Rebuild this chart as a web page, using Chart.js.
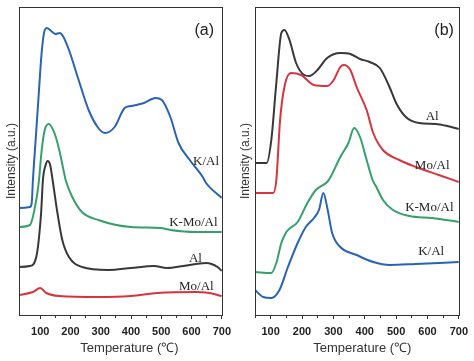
<!DOCTYPE html>
<html>
<head>
<meta charset="utf-8">
<script src="https://cdn.jsdelivr.net/npm/chart.js@4.4.0/dist/chart.umd.min.js"></script>
<style>
  body { margin: 0; background: #fff; width: 474px; height: 361px; position: relative; overflow: hidden; }
  canvas { position: absolute; top: 0; }
  #chartA { left: 0; }
  #chartB { left: 237px; }
</style>
</head>
<body>
<canvas id="chartA" width="237" height="361"></canvas>
<canvas id="chartB" width="237" height="361"></canvas>
<script>
// ---- panel (a) : temperatures (°C) and intensities (a.u., offset curves)
const tA_K = [30, 66, 72, 76, 85, 95, 105, 115, 122, 140, 150, 165, 175, 195, 227, 260, 292, 314, 346, 379, 400, 443, 481, 502, 530, 557, 594, 637, 648, 700];
const iA_K = [107, 108, 112, 135, 175, 220, 263, 285, 287, 283, 281, 282, 279, 265, 235, 205, 187, 182, 188, 207, 209, 212, 217, 215, 198, 172, 155, 138, 132, 117];

const tA_KMo = [30, 66, 87, 96, 105, 115, 128, 147, 163, 179, 184, 206, 238, 292, 400, 497, 530, 616, 700];
const iA_KMo = [88, 90, 115, 135, 165, 185, 191, 182, 165, 142, 135, 118, 103, 95, 88, 87, 85, 83, 83];

const tA_Al = [30, 66, 87, 103, 109, 118, 125, 133, 141, 157, 173, 195, 238, 325, 400, 476, 519, 573, 648, 686, 700];
const iA_Al = [48, 49, 58, 102, 135, 150, 154, 150, 135, 102, 75, 58, 48, 45, 47, 49, 47, 49, 52, 48, 44];

const tA_Mo = [30, 76, 100, 120, 163, 292, 400, 487, 616, 659, 700];
const iA_Mo = [20, 23, 27, 22, 19, 18, 19, 22, 23, 22, 19];

// ---- panel (b)
const tB_Al = [50, 87, 102, 118, 134, 144, 160, 181, 207, 223, 249, 280, 322, 354, 385, 416, 448, 479, 500, 531, 573, 626, 663, 700];
const iB_Al = [152, 152, 175, 232, 282, 285, 275, 252, 240, 239, 245, 257, 262, 261, 256, 253, 247, 228, 212, 198, 192, 191, 189, 186];

const tB_Mo = [50, 108, 118, 130, 145, 165, 197, 238, 280, 301, 322, 333, 354, 374, 406, 427, 458, 510, 563, 636, 700];
const iB_Mo = [122, 122, 135, 195, 230, 242, 240, 230, 229, 235, 248, 250, 245, 228, 205, 182, 165, 155, 148, 140, 133];

const tB_KMo = [50, 102, 118, 134, 150, 186, 217, 244, 280, 291, 322, 348, 366, 385, 406, 425, 437, 458, 490, 542, 615, 700];
const iB_KMo = [43, 42, 52, 72, 83, 93, 112, 125, 133, 138, 158, 172, 187, 178, 155, 135, 128, 115, 105, 99, 97, 93];

const tB_K = [50, 76, 102, 128, 155, 186, 212, 238, 254, 268, 280, 296, 322, 374, 427, 479, 563, 700];
const iB_K = [25, 18, 17, 25, 48, 72, 88, 97, 105, 122, 108, 82, 68, 60, 53, 50, 51, 53];

const xTicksMajor = [100, 200, 300, 400, 500, 600, 700];

const BLUE = '#2a63b5', GREEN = '#35a06c', RED = '#d8333f', GRAY = '#383838';

function pts(t, v) { return t.map((x, i) => ({ x: x, y: v[i] })); }

function ds(label, t, v, color) {
  return {
    label: label, data: pts(t, v), borderColor: color, borderWidth: 2,
    pointRadius: 0, fill: false, cubicInterpolationMode: 'monotone'
  };
}

// box around the plot + curve names placed in data units
const framePlugin = {
  id: 'frame',
  afterDatasetsDraw(chart, args, opts) {
    const { ctx, chartArea: a, scales } = chart;
    ctx.save();
    ctx.strokeStyle = '#333';
    ctx.lineWidth = 1;
    ctx.strokeRect(Math.round(a.left) + 0.5, Math.round(a.top) + 0.5, Math.round(a.right - a.left), Math.round(a.bottom - a.top));
    ctx.textAlign = 'center';
    ctx.textBaseline = 'middle';
    ctx.fillStyle = '#222';
    (opts.notes || []).forEach(n => {
      ctx.font = n.font;
      ctx.fillText(n.text, scales.x.getPixelForValue(n.t), scales.y.getPixelForValue(n.v));
    });
    ctx.restore();
  }
};

function makeChart(id, xmin, yWidth, padRight, datasets, notes, yTitlePad, xTitle) {
  return new Chart(document.getElementById(id), {
    type: 'line',
    data: { datasets: datasets },
    options: {
      responsive: false,
      animation: false,
      devicePixelRatio: 1,
      layout: { padding: { top: 7, right: padRight, left: 0, bottom: 0 } },
      plugins: { legend: { display: false }, tooltip: { enabled: false }, frame: { notes: notes } },
      scales: {
        x: {
          type: 'linear', min: xmin, max: 700,
          afterBuildTicks: s => { s.ticks = s.ticks.filter(t => t.value % 50 === 0); },
          afterFit: s => { s.height = 46; },
          ticks: {
            stepSize: 50, autoSkip: false, maxRotation: 0, padding: 6, color: '#222',
            font: { family: 'Liberation Sans, Arial', size: 11, weight: 'bold' },
            callback: v => xTicksMajor.includes(v) ? String(v) : ''
          },
          grid: {
            drawOnChartArea: false, tickLength: 4, tickColor: '#333', tickWidth: 1,
            tickBorderDash: c => (c.tick && c.tick.value % 100 !== 0) ? [2, 10] : []
          },
          border: { display: true, color: '#333' },
          title: {
            display: true, text: xTitle, color: '#333',
            font: { family: 'Liberation Sans, Arial', size: 13 }, padding: { top: 5, bottom: 5 }
          }
        },
        y: {
          min: 0, max: 308,
          afterFit: s => { s.width = yWidth; },
          ticks: { display: false },
          grid: { display: false },
          border: { display: true, color: '#333' },
          title: {
            display: true, text: 'Intensity (a.u.)', color: '#333',
            font: { family: 'Liberation Sans, Arial', size: 12 }, padding: { top: yTitlePad, bottom: 0 }
          }
        }
      }
    },
    plugins: [framePlugin]
  });
}

const serif = '13px "Liberation Serif", "Times New Roman", serif';
const tag = '16px "Liberation Sans", Arial, sans-serif';

makeChart('chartA', 30, 19, 11, [
  ds('K/Al', tA_K, iA_K, BLUE),
  ds('K-Mo/Al', tA_KMo, iA_KMo, GREEN),
  ds('Al', tA_Al, iA_Al, GRAY),
  ds('Mo/Al', tA_Mo, iA_Mo, RED)
], [
  { text: '(a)', t: 642, v: 284, font: tag },
  { text: 'K/Al', t: 648, v: 153, font: serif },
  { text: 'K-Mo/Al', t: 606, v: 92, font: serif },
  { text: 'Al', t: 613, v: 56, font: serif },
  { text: 'Mo/Al', t: 616, v: 28, font: serif }
], 4, '     Temperature (℃)');

makeChart('chartB', 50, 18, 13, [
  ds('Al', tB_Al, iB_Al, GRAY),
  ds('Mo/Al', tB_Mo, iB_Mo, RED),
  ds('K-Mo/Al', tB_KMo, iB_KMo, GREEN),
  ds('K/Al', tB_K, iB_K, BLUE)
], [
  { text: '(b)', t: 653, v: 284, font: tag },
  { text: 'Al', t: 615, v: 198, font: serif },
  { text: 'Mo/Al', t: 615, v: 149, font: serif },
  { text: 'K-Mo/Al', t: 606, v: 107, font: serif },
  { text: 'K/Al', t: 612, v: 63, font: serif }
], 1, '   Temperature (℃)');
</script>
</body>
</html>
